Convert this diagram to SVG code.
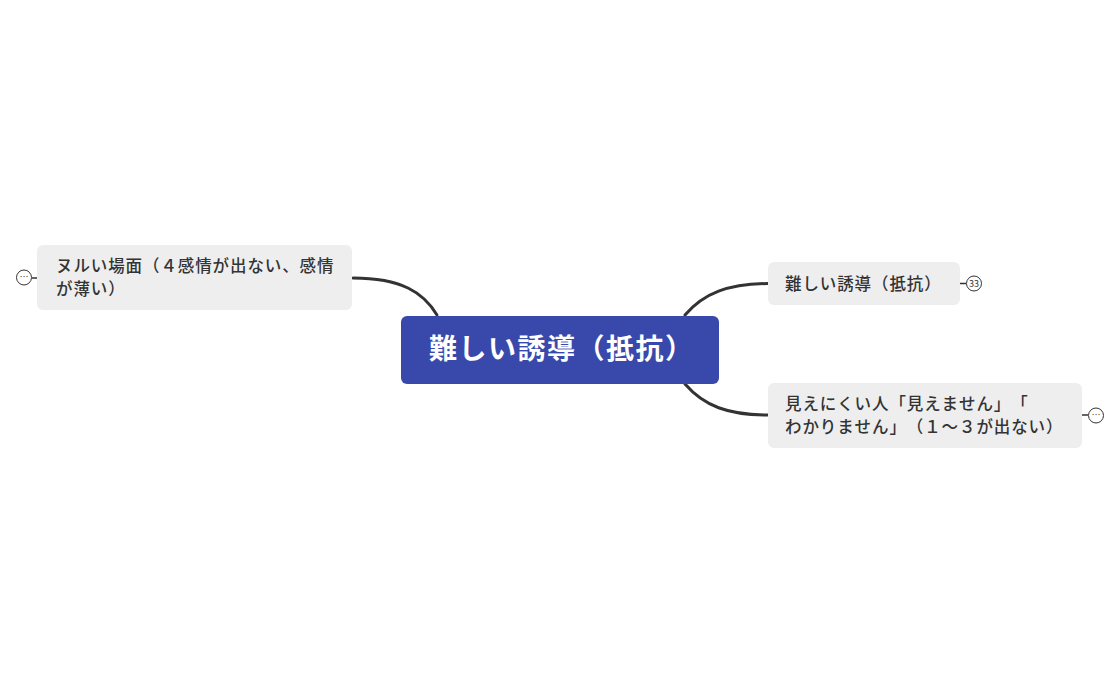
<svg xmlns="http://www.w3.org/2000/svg" width="1120" height="693" viewBox="0 0 1120 693">
<style>
text{font-family:"Noto Sans CJK JP","Noto Sans",sans-serif;font-kerning:none;font-feature-settings:"palt" 0,"chws" 0,"kern" 0;text-spacing-trim:space-all}
.n{fill:#eeeeee}
.t{font-size:16.500px;letter-spacing:.9px;font-weight:500;fill:#333333}
.c{fill:none;stroke:#333333;stroke-width:3;stroke-linecap:round}
.s{fill:none;stroke:#333333;stroke-width:1.5}
.b{fill:#ffffff;stroke:#333333;stroke-width:1}
.d{font-size:9px;fill:#333333;text-anchor:middle}
</style>
<rect width="1120" height="693" fill="#ffffff"/>
<g id="connectors">
<path class="c" d="M437 315C424 293 402 278 353 278"/>
<path class="c" d="M685 315C704 293 728 284 768 283.500"/>
<path class="c" d="M685 384C704 406 728 415 768 415"/>
<path class="s" d="M32 278H38M960 283.500H966M1082 415H1088"/>
</g>
<g id="root">
<rect x="401" y="316" width="318" height="68" rx="6" fill="#3949ab"/>
<text x="429" y="359" font-size="28" font-weight="700" letter-spacing="1.500" fill="#ffffff">難しい誘導（抵抗）</text>
</g>
<g id="node-left">
<rect class="n" x="37" y="245" width="315" height="65" rx="6"/>
<text class="t" x="56" y="272">ヌルい場面（４感情が出ない、感情</text>
<text class="t" x="56" y="295">が薄い）</text>
<circle class="b" cx="24" cy="277.500" r="7.500"/>
<text class="d" x="24" y="280">…</text>
</g>
<g id="node-right-top">
<rect class="n" x="768" y="262" width="192" height="43" rx="6"/>
<text class="t" x="785" y="289.500">難しい誘導（抵抗）</text>
<circle class="b" cx="974" cy="283.500" r="7.500"/>
<text class="d" x="974" y="287">33</text>
</g>
<g id="node-right-bottom">
<rect class="n" x="768" y="383" width="314" height="65" rx="6"/>
<text class="t" x="785" y="410">見えにくい人「見えません」「</text>
<text class="t" x="785" y="433">わかりません」（１～３が出ない）</text>
<circle class="b" cx="1096" cy="415.500" r="7.500"/>
<text class="d" x="1096" y="418">…</text>
</g>
</svg>
